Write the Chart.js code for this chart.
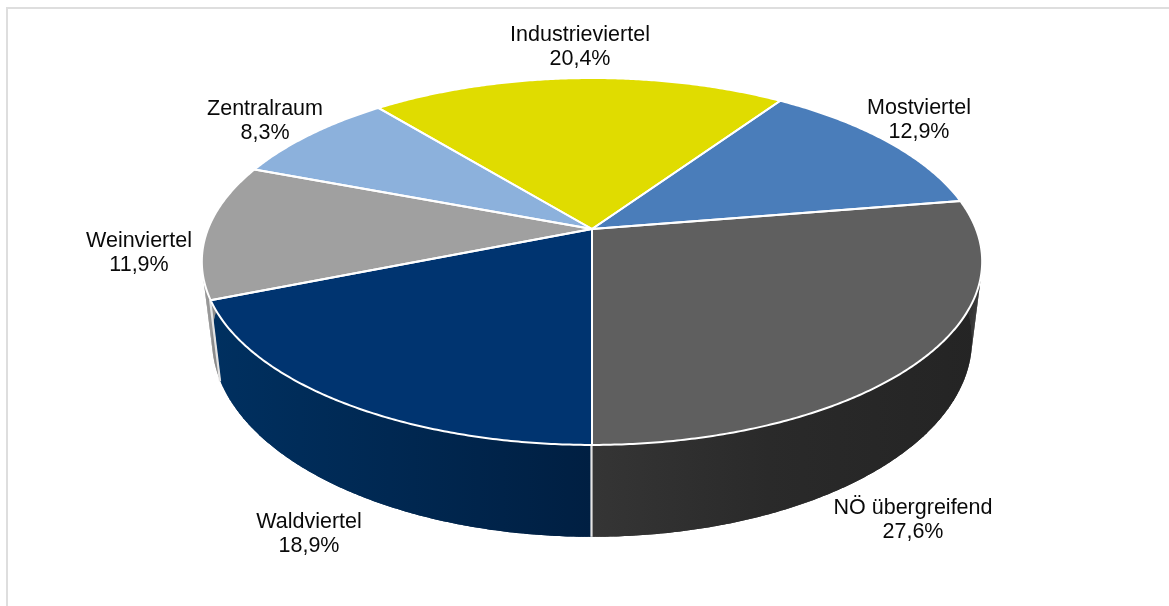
<!DOCTYPE html>
<html><head><meta charset="utf-8">
<style>html,body{margin:0;padding:0;background:#fff}canvas{display:block}</style>
<script src="https://cdn.jsdelivr.net/npm/chart.js@4"></script>
</head><body>
<canvas id="c" width="1169" height="606"></canvas>
<script>
const categories = ["Waldviertel","Weinviertel","Zentralraum","Industrieviertel","Mostviertel","NÖ übergreifend"];
const shares = [18.9,11.9,8.3,20.4,12.9,27.6];
const topColors = ["#003470","#a0a0a0","#8cb1dc","#e0dc00","#4a7dba","#5f5f5f"];
const wallColorsLeft = ["#003060","#8c8c8c","#6f8fb5","#b5b200","#3c659a","#353535"];
const wallColorsRight = ["#001f42","#8c8c8c","#6f8fb5","#b5b200","#3c659a","#242424"];
const labelSpots = [[309,522],[139,241],[265,109],[580,35],[919,108],[913,508]];

const K = 0.177;
const topPlane = {cx:592, cy:229, a:384, b:177.7};
const lowPlane = {cx:592, cy:305, a:374, b:190.8};
const proj = (p,ang)=>{const u=Math.cos(ang),v=Math.sin(ang),w=1-K*v;return [p.cx+p.a*u/w,p.cy+p.b*v/w];};
const arcPts=(p,a,b,step=0.008)=>{const n=Math.max(2,Math.ceil(Math.abs(b-a)/step));const o=[];for(let i=0;i<=n;i++)o.push(proj(p,a+(b-a)*i/n));return o;};

const pie3d = {
  id:'pie3d',
  beforeDatasetsDraw(chart){
    const ctx=chart.ctx, meta=chart.getDatasetMeta(0), ds=chart.data.datasets[0];
    const arcs=meta.data;
    ctx.save();
    // walls
    arcs.forEach((el,i)=>{
      const a=el.startAngle,b=el.endAngle;
      if(Math.sin(a)<0 && Math.sin(b)<0 && Math.sin((a+b)/2)<0) return;
      const t=arcPts(topPlane,a,b), l=arcPts(lowPlane,a,b);
      const xs=t.concat(l).map(q=>q[0]);
      const g=ctx.createLinearGradient(Math.min(...xs),0,Math.max(...xs),0);
      if(i===5){g.addColorStop(0,'#353535');g.addColorStop(0.45,'#2a2a2a');g.addColorStop(1,'#242424');}
      else{g.addColorStop(0,wallColorsLeft[i]);g.addColorStop(1,wallColorsRight[i]);}
      ctx.fillStyle=g;
      // body of the wall, then swept pieces for the tangent outline between the rims
      ctx.beginPath();
      t.concat(l.slice().reverse()).forEach((q,j)=>j?ctx.lineTo(q[0],q[1]):ctx.moveTo(q[0],q[1]));
      ctx.closePath();ctx.fill();
      for(let j=0;j<t.length-1;j++){
        ctx.beginPath();
        ctx.moveTo(t[j][0],t[j][1]);ctx.lineTo(t[j+1][0],t[j+1][1]);
        ctx.lineTo(l[j+1][0],l[j+1][1]);ctx.lineTo(l[j][0],l[j][1]);ctx.closePath();
        ctx.fill();
      }
    });
    // front vertical seams
    ctx.strokeStyle='#e4e4e4';ctx.lineWidth=2.2;
    arcs.forEach(el=>{
      const a=el.startAngle;
      if(Math.sin(a)<=0) return;
      const p=proj(topPlane,a),q=proj(lowPlane,a);
      ctx.beginPath();ctx.moveTo(p[0]-0.5,p[1]);ctx.lineTo(q[0]-0.5,q[1]);ctx.stroke();
    });
    // top faces
    arcs.forEach((el,i)=>{
      const pts=arcPts(topPlane,el.startAngle,el.endAngle);
      ctx.beginPath();ctx.moveTo(topPlane.cx,topPlane.cy);
      pts.forEach(q=>ctx.lineTo(q[0],q[1]));
      ctx.closePath();
      ctx.fillStyle=ds.backgroundColor[i];ctx.fill();
    });
    ctx.strokeStyle='#ffffff';ctx.lineWidth=2;ctx.lineJoin='round';
    arcs.forEach(el=>{
      const pts=arcPts(topPlane,el.startAngle,el.endAngle);
      ctx.beginPath();ctx.moveTo(topPlane.cx,topPlane.cy);
      pts.forEach(q=>ctx.lineTo(q[0],q[1]));
      ctx.closePath();ctx.stroke();
    });
    ctx.restore();
    return false;
  },
  afterDraw(chart){
    const ctx=chart.ctx;
    ctx.save();
    // frame
    ctx.strokeStyle='#dedede';ctx.lineWidth=2;
    ctx.beginPath();ctx.moveTo(7,606);ctx.lineTo(7,8);ctx.lineTo(1169,8);ctx.stroke();
    // labels
    ctx.font='21.5px "Liberation Sans", Arial, sans-serif';
    ctx.fillStyle='#0a0a0a';ctx.textAlign='center';ctx.textBaseline='middle';
    categories.forEach((c,i)=>{
      const [x,y]=labelSpots[i];
      ctx.fillText(c,x,y);
      ctx.fillText(shares[i].toFixed(1).replace('.',',')+'%',x,y+24.5);
    });
    ctx.restore();
  }
};

new Chart(document.getElementById('c'),{
  type:'pie',
  data:{labels:categories,datasets:[{data:shares,backgroundColor:topColors,borderColor:'#fff',borderWidth:2}]},
  options:{responsive:false,animation:false,rotation:180,
    plugins:{legend:{display:false},tooltip:{enabled:false}}},
  plugins:[pie3d]
});
</script>
</body></html>
